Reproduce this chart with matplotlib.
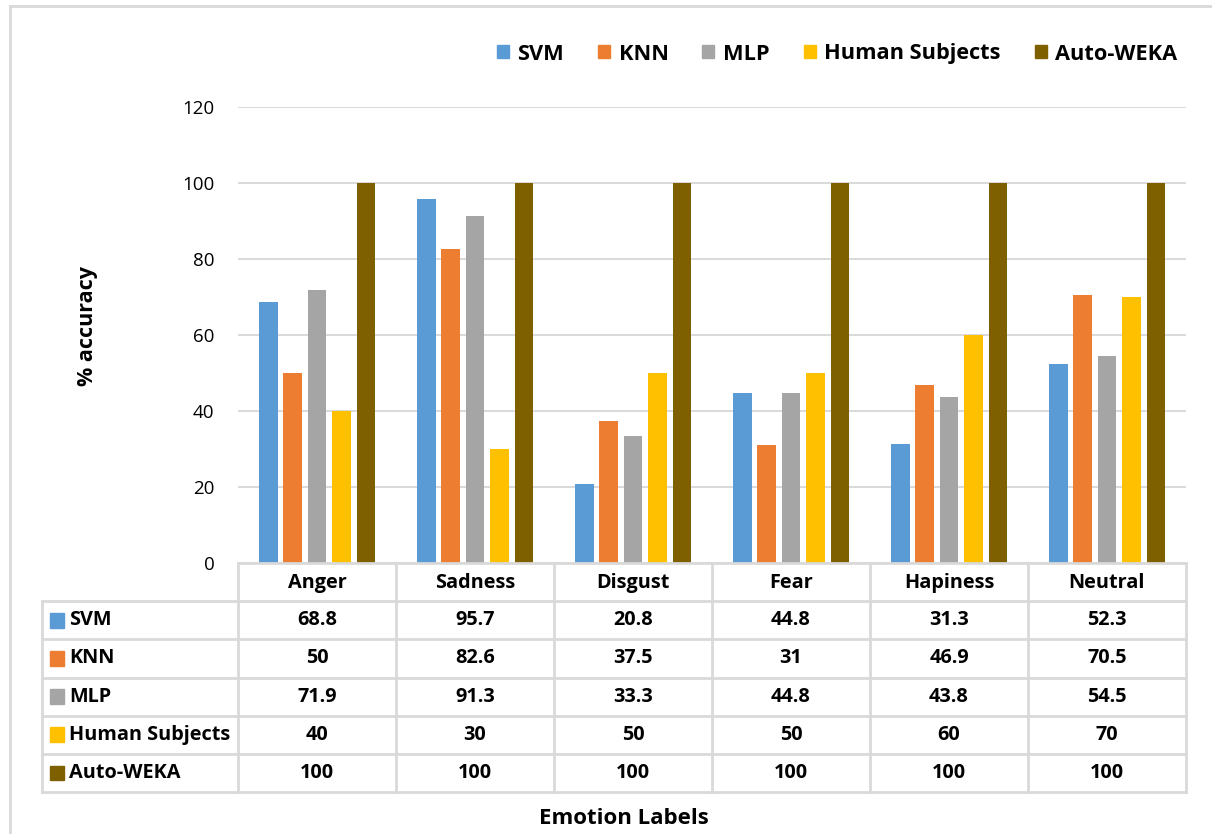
import numpy as np
import matplotlib.pyplot as plt
from matplotlib.patches import Rectangle
from matplotlib.lines import Line2D

plt.rcParams['font.family'] = ['Open Sans', 'DejaVu Sans']

# --- DATA ---
emotions = ["Anger", "Sadness", "Disgust", "Fear", "Hapiness", "Neutral"]
models = ["SVM", "KNN", "MLP", "Human Subjects", "Auto-WEKA"]
svm = [68.8, 95.7, 20.8, 44.8, 31.3, 52.3]
knn = [50, 82.6, 37.5, 31, 46.9, 70.5]
mlp = [71.9, 91.3, 33.3, 44.8, 43.8, 54.5]
human = [40, 30, 50, 50, 60, 70]
auto_weka = [100, 100, 100, 100, 100, 100]
yticks = [0, 20, 40, 60, 80, 100, 120]

series = [svm, knn, mlp, human, auto_weka]
colors = ["#5B9BD5", "#ED7D31", "#A5A5A5", "#FFC000", "#7F6000"]
grid_col = "#D9D9D9"

W, H = 1212, 834
fig = plt.figure(figsize=(W / 100, H / 100), dpi=100)

def fx(px):
    return px / W

def fy(py):
    return 1 - py / H

# plot area in pixels
x0, x1 = 238, 1186
y_top, y_base = 107, 563
ax = fig.add_axes([fx(x0), fy(y_base), fx(x1 - x0), fy(y_top) - fy(y_base)])

step = 0.155
width = 0.12
xc = np.arange(len(emotions)) + 0.5
for j, (vals, c) in enumerate(zip(series, colors)):
    ax.bar(xc + (j - 2) * step, vals, width, color=c, zorder=3)

ax.set_xlim(0, len(emotions))
ax.set_ylim(0, 120)
ax.set_yticks(yticks)
ax.set_yticklabels([str(v) for v in yticks], fontsize=13.5)
ax.set_xticks([])
ax.tick_params(axis='y', length=0, pad=17)
for s in ax.spines.values():
    s.set_visible(False)
ax.yaxis.grid(True, color=grid_col, lw=1.4, zorder=0)
ax.set_axisbelow(True)

fig.text(fx(88), fy(326), "% accuracy", rotation=90, ha='center', va='center',
         fontsize=15.5, fontweight='bold')

# --- DATA TABLE ---
t_left, t_top, t_bottom = 42, 563, 792
tab = fig.add_axes([fx(t_left), fy(t_bottom), fx(x1 + 1 - t_left), fy(t_top) - fy(t_bottom)])
px_unit = 6 / (x1 - x0)
left = -(x0 - t_left) * px_unit
tab.set_xlim(left, 6 + px_unit)
nrows = len(models) + 1
tab.set_ylim(nrows, 0)
tab.axis('off')

lw = 2
# header row only spans the category columns
tab.plot([0, 6], [0, 0], color=grid_col, lw=lw, clip_on=False)
for k in range(1, nrows + 1):
    tab.plot([left, 6], [k, k], color=grid_col, lw=lw, clip_on=False)
for c in range(len(emotions) + 1):
    tab.plot([c, c], [0, nrows], color=grid_col, lw=lw, clip_on=False)
tab.plot([left, left], [1, nrows], color=grid_col, lw=lw, clip_on=False)

cell_fs = 14.3
for c, name in enumerate(emotions):
    tab.text(c + 0.5, 0.52, name, ha='center', va='center', fontsize=cell_fs, fontweight='bold')

for r, (name, vals, col) in enumerate(zip(models, series, colors)):
    y = r + 1.5
    tab.add_patch(Rectangle((left + 8 * px_unit, y - 0.19), 14 * px_unit, 0.38,
                            color=col, clip_on=False))
    tab.text(left + 27 * px_unit, y, name, ha='left', va='center',
             fontsize=cell_fs, fontweight='bold')
    for c, v in enumerate(vals):
        tab.text(c + 0.5, y, f"{v:g}", ha='center', va='center', fontsize=cell_fs, fontweight='bold')

fig.text(fx(624), fy(818), "Emotion Labels", ha='center', va='center',
         fontsize=16, fontweight='bold')

# --- LEGEND ---
handles = [Rectangle((0, 0), 1, 1, color=c) for c in colors]
fig.legend(handles, models, loc='center right', bbox_to_anchor=(fx(1197), fy(54)),
           ncol=5, frameon=False, prop={'size': 15.7, 'weight': 'bold'},
           handlelength=0.55, handleheight=0.55, handletextpad=0.4, columnspacing=1.55)

# outer chart border
fig.add_artist(Line2D([fx(10), 1], [fy(6), fy(6)], color=grid_col, lw=2))
fig.add_artist(Line2D([fx(10), fx(10)], [fy(6), 0], color=grid_col, lw=2))

fig.savefig("out.png", dpi=100)
